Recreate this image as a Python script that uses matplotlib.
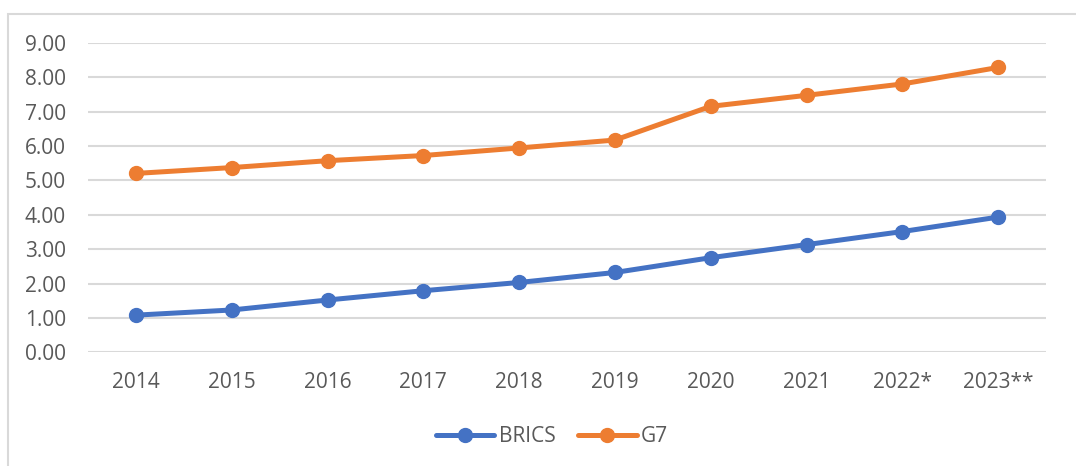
import matplotlib.pyplot as plt
from matplotlib.patches import Rectangle

# valeurs lues par année
years = ['2014', '2015', '2016', '2017', '2018', '2019', '2020', '2021', '2022*', '2023**']
brics = [1.08, 1.23, 1.52, 1.79, 2.03, 2.32, 2.75, 3.13, 3.51, 3.93]
g7 = [5.20, 5.37, 5.57, 5.72, 5.94, 6.17, 7.15, 7.47, 7.80, 8.28]

plt.rcParams['font.family'] = ['Open Sans', 'DejaVu Sans']
txt = '#595959'

fig = plt.figure(figsize=(10.76, 4.66), dpi=100)
ax = fig.add_axes([88/1076, 1 - 352.3/466, (1046 - 88)/1076, (352.3 - 42.7)/466])

# cadre du graphique (haut et gauche)
fig.patches.append(Rectangle((8/1076, -0.1), 1.1, 1 - 14/466 + 0.1, transform=fig.transFigure,
                             fill=False, edgecolor='#D9D9D9', linewidth=1.5))

x = range(len(years))
ax.plot(x, brics, color='#4472C4', lw=3.6, marker='o', ms=10, label='BRICS', solid_capstyle='round')
ax.plot(x, g7, color='#ED7D31', lw=3.6, marker='o', ms=10, label='G7', solid_capstyle='round')

ax.set_xlim(-0.5, len(years) - 0.5)
ax.set_ylim(0, 9)
ax.set_yticks(range(10))
ax.set_yticklabels(['%.2f' % v for v in range(10)])
ax.set_xticks(list(x))
ax.set_xticklabels(years)
ax.tick_params(axis='both', length=0, labelsize=15, labelcolor=txt)
ax.tick_params(axis='y', pad=16)
ax.tick_params(axis='x', pad=14)

ax.grid(axis='y', color='#D9D9D9', lw=1.5)
ax.set_axisbelow(True)
for s in ax.spines.values():
    s.set_visible(False)

leg = fig.legend(loc='center', bbox_to_anchor=(552/1076, 1 - 437/466), ncol=2, frameon=False,
                 fontsize=15, handlelength=2.8, handletextpad=0.2, columnspacing=1.1)
for t in leg.get_texts():
    t.set_color(txt)

fig.savefig('out.png', dpi=100)
